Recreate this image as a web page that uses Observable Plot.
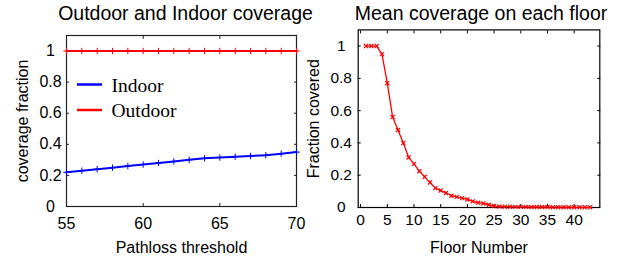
<!DOCTYPE html>
<html><head><meta charset="utf-8">
<script src="https://cdn.jsdelivr.net/npm/d3@7"></script>
<script src="https://cdn.jsdelivr.net/npm/@observablehq/plot@0.6"></script>
<style>
body{margin:0;background:#fff}
#c{position:relative;width:619px;height:258px;font-family:"Liberation Sans",Arial,sans-serif}
#c svg.p{position:absolute;top:0;overflow:visible}
#legend{position:absolute;left:0;top:0;width:310px;height:258px;pointer-events:none}
</style>
</head><body><div id="c"></div>
<script>
// ---- data ----
const thresholds = [55,56,57,58,59,60,61,62,63,64,65,66,67,68,69,70];
const indoor =    [0.22,0.23,0.24,0.25,0.26,0.27,0.28,0.29,0.30,0.31,0.315,0.32,0.325,0.33,0.34,0.35];
const outdoor =   [1,1,1,1,1,1,1,1,1,1,1,1,1,1,1,1];
const floors = [1,2,3,4,5,6,7,8,9,10,11,12,13,14,15,16,17,18,19,20,21,22,23,24,25,26,27,28,29,30,31,32,33,34,35,36,37,38,39,40,41,42,43];
const floorCoverage = [1,1,1,0.95,0.77,0.56,0.48,0.40,0.31,0.27,0.225,0.19,0.155,0.12,0.105,0.09,0.073,0.066,0.058,0.05,0.038,0.03,0.025,0.017,0.009,0.006,0.005,0.005,0.004,0.004,0.004,0.003,0.003,0.003,0.003,0.002,0.002,0.002,0.001,0.001,0.001,0.001,0.001];
const yTicks = [0,0.2,0.4,0.6,0.8,1];
const yTickLabels = ["0","0.2","0.4","0.6","0.8","1"];
const leftXTicks = [55,60,65,70];
const rightXTicks = [0,5,10,15,20,25,30,35,40];
const seriesNames = ["Indoor","Outdoor"];
const seriesColors = ["#0000ff","#ff0000"];
const titles = ["Outdoor and Indoor coverage","Mean coverage on each floor"];
const xLabels = ["Pathloss threshold","Floor Number"];
const yLabels = ["coverage fraction","Fraction covered"];

const FONT = '"Liberation Sans", Arial, sans-serif';
const rowsLeft = [
  ...thresholds.map((t,i)=>({t, v: indoor[i], s: seriesNames[0]})),
  ...thresholds.map((t,i)=>({t, v: outdoor[i], s: seriesNames[1]}))
];
const rowsRight = floors.map((f,i)=>({f, v: floorCoverage[i]}));

function tickMarks(xt, yt, color){
  const none = () => "";
  return [
    Plot.axisX(xt, {anchor:"bottom", tickSize:-3, tickFormat:none, label:null, stroke:color}),
    Plot.axisX(xt, {anchor:"top", tickSize:-3, tickFormat:none, label:null, stroke:color}),
    Plot.axisY(yt, {anchor:"left", tickSize:-3, tickFormat:none, label:null, stroke:color}),
    Plot.axisY(yt, {anchor:"right", tickSize:-3, tickFormat:none, label:null, stroke:color})
  ];
}

const left = Plot.plot({
  width:310, height:258,
  marginLeft:66, marginRight:14, marginTop:35, marginBottom:52,
  x:{domain:[55,70]}, y:{domain:[0,1.1]},
  color:{domain:seriesNames, range:seriesColors},
  style:{fontFamily:FONT, background:"transparent", color:"#000", overflow:"visible"},
  marks:[
    ...tickMarks(leftXTicks, yTicks, "#222"),
    Plot.frame({stroke:"#222", strokeWidth:1.2}),
    Plot.line(rowsLeft, {x:"t", y:"v", z:"s", stroke:"s", strokeWidth:2}),
    Plot.dot(rowsLeft, {x:"t", y:"v", stroke:"s", symbol:"plus", r:2.2, strokeWidth:1}),
    Plot.text(yTicks, {y:d=>d, text:(d,i)=>yTickLabels[i], frameAnchor:"left", dx:-16, textAnchor:"middle", lineAnchor:"middle", fontSize:16, fill:"#000"}),
    Plot.text(leftXTicks, {x:d=>d, text:d=>String(d), frameAnchor:"bottom", dy:17, lineAnchor:"middle", fontSize:16, fill:"#000"}),
    Plot.text([titles[0]], {text:d=>d, frameAnchor:"top", dx:4, dy:-22, lineAnchor:"middle", textAnchor:"middle", fontSize:19.5, fill:"#000"}),
    Plot.text([xLabels[0]], {text:d=>d, frameAnchor:"bottom", dy:41.5, lineAnchor:"middle", fontSize:16, fill:"#000"}),
    Plot.text([yLabels[0]], {text:d=>d, frameAnchor:"left", dx:-44, rotate:-90, textAnchor:"middle", lineAnchor:"middle", fontSize:16, fill:"#000"})
  ]
});
left.classList.add("p");
left.style.left = "0px";

const right = Plot.plot({
  width:309, height:258,
  marginLeft:47.7, marginRight:19.7, marginTop:29.4, marginBottom:51,
  x:{domain:[-0.45,44.8]}, y:{domain:[0,1.1]},
  style:{fontFamily:FONT, background:"transparent", color:"#000", overflow:"visible"},
  marks:[
    ...tickMarks(rightXTicks, yTicks, "#000"),
    Plot.frame({stroke:"#000", strokeWidth:1.2}),
    Plot.line(rowsRight, {x:"f", y:"v", stroke:seriesColors[1], strokeWidth:1.3}),
    Plot.dot(rowsRight, {x:"f", y:"v", stroke:seriesColors[1], symbol:"times", r:2, strokeWidth:1.2}),
    Plot.text(yTicks, {y:d=>d, text:(d,i)=>yTickLabels[i], frameAnchor:"left", dx:-17, textAnchor:"middle", lineAnchor:"middle", fontSize:15.5, fill:"#000"}),
    Plot.text(rightXTicks, {x:d=>d, text:d=>String(d), frameAnchor:"bottom", dy:12.5, lineAnchor:"middle", fontSize:15.5, fill:"#000"}),
    Plot.text([titles[1]], {text:d=>d, frameAnchor:"top", dx:2, dy:-16.4, lineAnchor:"middle", textAnchor:"middle", fontSize:19.5, fill:"#000"}),
    Plot.text([xLabels[1]], {text:d=>d, frameAnchor:"bottom", dy:40, lineAnchor:"middle", fontSize:16, fill:"#000"}),
    Plot.text([yLabels[1]], {text:d=>d, frameAnchor:"left", dx:-44, rotate:-90, textAnchor:"middle", lineAnchor:"middle", fontSize:16, fill:"#000"})
  ]
});
right.classList.add("p");
right.style.left = "310px";

const c = document.getElementById("c");
c.appendChild(left);
c.appendChild(right);

// legend inside the left panel
const ns = "http://www.w3.org/2000/svg";
const lg = document.createElementNS(ns, "svg");
lg.setAttribute("id","legend");
lg.setAttribute("width","310"); lg.setAttribute("height","258");
seriesNames.forEach((name,i)=>{
  const y = 84.5 + i*25.5;
  const ln = document.createElementNS(ns,"line");
  ln.setAttribute("x1","77"); ln.setAttribute("x2","102");
  ln.setAttribute("y1",y); ln.setAttribute("y2",y);
  ln.setAttribute("stroke",seriesColors[i]); ln.setAttribute("stroke-width","2.5");
  lg.appendChild(ln);
  const tx = document.createElementNS(ns,"text");
  tx.setAttribute("x","111.5"); tx.setAttribute("y", y+7);
  tx.setAttribute("font-family",'"Liberation Serif","Times New Roman",serif');
  tx.setAttribute("font-size","19.5");
  tx.textContent = name;
  lg.appendChild(tx);
});
c.appendChild(lg);
</script>
</body></html>
